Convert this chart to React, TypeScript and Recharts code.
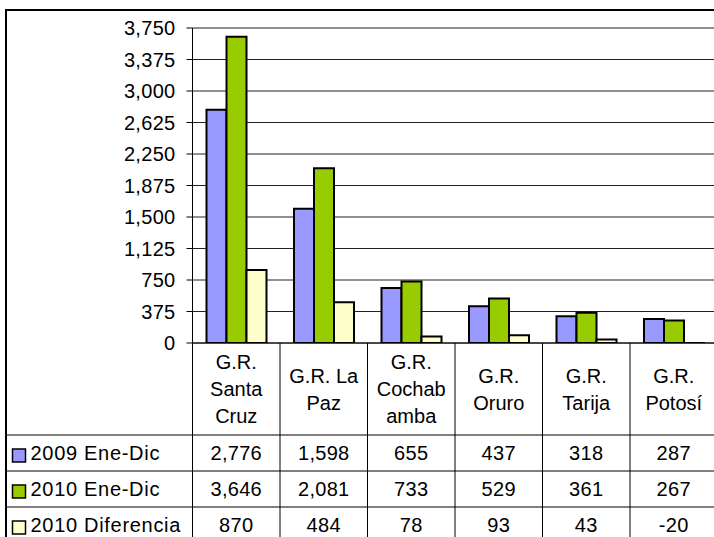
import { BarChart, Bar, XAxis, YAxis, CartesianGrid } from 'recharts'

document.body.style.margin = '0'

const categories = ['G.R. Santa Cruz', 'G.R. La Paz', 'G.R. Cochabamba', 'G.R. Oruro', 'G.R. Tarija', 'G.R. Potosí']
// how each category name wraps in the table header
const categoryLines = [
  ['G.R.', 'Santa', 'Cruz'],
  ['G.R. La', 'Paz'],
  ['G.R.', 'Cochab', 'amba'],
  ['G.R.', 'Oruro'],
  ['G.R.', 'Tarija'],
  ['G.R.', 'Potosí'],
]
const seriesNames = ['2009 Ene-Dic', '2010 Ene-Dic', '2010 Diferencia']
const values2009 = [2776, 1598, 655, 437, 318, 287]
const values2010 = [3646, 2081, 733, 529, 361, 267]
const valuesDiff = [870, 484, 78, 93, 43, -20]
const yTicks = [0, 375, 750, 1125, 1500, 1875, 2250, 2625, 3000, 3375, 3750]

const COLORS = ['#9999FF', '#99CC00', '#FFFFCC']
const FONT = 'Liberation Sans, Arial, sans-serif'
const FONT_SIZE = 20

const seriesValues = [values2009, values2010, valuesDiff]
const data = categories.map((name, i) => ({
  name,
  s0: values2009[i],
  s1: values2010[i],
  s2: valuesDiff[i],
}))

// table layout
const TABLE_TOP = 343
const HEADER_BOTTOM = 435
const ROW_H = 36
const LINE_H = 27
const TABLE_LEFT = 6
const TABLE_BOTTOM = 600

const fmt = (v: number) => v.toLocaleString('en-US')

function TableColumn(props: any) {
  const { x, payload, index } = props
  const i = index ?? payload.index ?? 0
  const half = payload.offset || 43.75
  const left = x - half
  const right = x + half
  const lines = categoryLines[i]
  const headerMid = (TABLE_TOP + HEADER_BOTTOM) / 2
  const firstLine = headerMid - ((lines.length - 1) * LINE_H) / 2
  const baseShift = FONT_SIZE * 0.36

  return (
    <g fontFamily={FONT} fontSize={FONT_SIZE} fill="#000">
      {/* column header */}
      {lines.map((t, k) => (
        <text key={k} x={x} y={firstLine + k * LINE_H + baseShift} textAnchor="middle" fill="#000">{t}</text>
      ))}
      {/* column values */}
      {seriesValues.map((vals, r) => (
        <text key={r} x={x} y={HEADER_BOTTOM + ROW_H * r + ROW_H / 2 + baseShift} textAnchor="middle" fill="#000" letterSpacing={0.3}>
          {fmt(vals[i])}
        </text>
      ))}
      <line x1={right} x2={right} y1={TABLE_TOP} y2={TABLE_BOTTOM} stroke="#000" />
      {[0, 1, 2].map(r => (
        <line key={r} x1={i === 0 ? TABLE_LEFT : left} x2={right} y1={HEADER_BOTTOM + ROW_H * r} y2={HEADER_BOTTOM + ROW_H * r} stroke="#000" />
      ))}
      {i === 0 && (
        <g>
          <line x1={left} x2={left} y1={TABLE_TOP} y2={TABLE_BOTTOM} stroke="#000" />
          {seriesNames.map((name, r) => {
            const cy = HEADER_BOTTOM + ROW_H * r + ROW_H / 2
            return (
              <g key={name}>
                <rect x={12.5} y={cy - 4} width={13} height={13} fill={COLORS[r]} stroke="#000" strokeWidth={1.5} />
                <text x={30.5} y={cy + baseShift} textAnchor="start" fill="#000" letterSpacing={0.7}>{name}</text>
              </g>
            )
          })}
        </g>
      )}
    </g>
  )
}

export default function App() {
  return (
    <div style={{ position: 'relative', width: 714, height: 537, overflow: 'hidden', background: '#fff' }}>
      <div style={{ position: 'absolute', left: 5, top: 9, width: 800, height: 700, borderTop: '2px solid #000', borderLeft: '2px solid #000' }} />
      <div style={{ position: 'absolute', left: 0, top: 0 }}>
        <BarChart
          width={730}
          height={560}
          data={data}
          margin={{ top: 28, right: 12.5, bottom: 17, left: 0 }}
          barCategoryGap="16%"
          barGap={0}
        >
          <CartesianGrid vertical={false} stroke="#222" />
          <XAxis
            dataKey="name"
            height={200}
            interval={0}
            tickLine={false}
            axisLine={{ stroke: '#000' }}
            tick={<TableColumn />}
          />
          <YAxis
            width={192.5}
            domain={[0, 3750]}
            ticks={yTicks}
            interval={0}
            allowDataOverflow
            tickSize={6}
            tickMargin={11}
            tickFormatter={fmt}
            axisLine={{ stroke: '#000' }}
            tickLine={{ stroke: '#000' }}
            tick={{ fontSize: FONT_SIZE, fontFamily: FONT, fill: '#000', letterSpacing: 0.3 }}
          />
          <Bar dataKey="s0" name={seriesNames[0]} fill={COLORS[0]} stroke="#000" strokeWidth={2} isAnimationActive={false} />
          <Bar dataKey="s1" name={seriesNames[1]} fill={COLORS[1]} stroke="#000" strokeWidth={2} isAnimationActive={false} />
          <Bar dataKey="s2" name={seriesNames[2]} fill={COLORS[2]} stroke="#000" strokeWidth={2} isAnimationActive={false} />
        </BarChart>
      </div>
    </div>
  )
}
